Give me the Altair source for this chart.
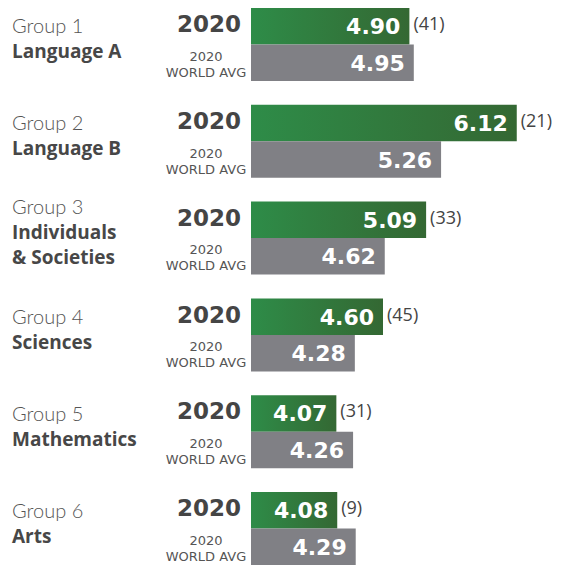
import altair as alt
import pandas as pd

groups = ["Group 1", "Group 2", "Group 3", "Group 4", "Group 5", "Group 6"]
subjects = ["Language A", "Language B", "Individuals\n& Societies", "Sciences", "Mathematics", "Arts"]
school_2020 = [4.90, 6.12, 5.09, 4.60, 4.07, 4.08]
world_avg = [4.95, 5.26, 4.62, 4.28, 4.26, 4.29]
counts = [41, 21, 33, 45, 31, 9]
series = ["2020", "2020\nWORLD AVG"]

BASE = 3.10
PX_PER_UNIT = 88
PLOT_W = 305

rows = []
for g, s, w, c in zip(groups, school_2020, world_avg, counts):
    rows.append({"group": g, "series": series[0], "value": s, "label": f"{s:.2f}", "count": f"({c})"})
    rows.append({"group": g, "series": series[1], "value": w, "label": f"{w:.2f}", "count": ""})
df = pd.DataFrame(rows)

lab_rows = []
for g, sub in zip(groups, subjects):
    n = len(sub.split("\n"))
    lab_rows.append({
        "group": g,
        "nlines": n + 1,
        "light": g + "\n " * n,
        "bold": " \n" + sub,
    })
labels = pd.DataFrame(lab_rows)

yscale = alt.Scale(domain=groups, paddingInner=0.246, paddingOuter=0)
offscale = alt.Scale(domain=series, paddingInner=0, paddingOuter=0)
xscale = alt.Scale(domain=[BASE, BASE + PLOT_W / PX_PER_UNIT], zero=False, nice=False)

Y = alt.Y("group:N", scale=yscale, axis=None)
YO = alt.YOffset("series:N", scale=offscale)
X = alt.X("value:Q", scale=xscale, axis=None)

green = alt.Gradient(
    gradient="linear",
    stops=[alt.GradientStop(color="#2e8c48", offset=0), alt.GradientStop(color="#346833", offset=1)],
    x1=0, x2=1, y1=0, y2=0,
)

base = alt.Chart(df)

bars_green = base.transform_filter(alt.datum.series == series[0]).mark_bar(color=green).encode(
    x=X, x2=alt.datum(BASE), y=Y, yOffset=YO
)
bars_gray = base.transform_filter(alt.datum.series == series[1]).mark_bar(color="#808085").encode(
    x=X, x2=alt.datum(BASE), y=Y, yOffset=YO
)
vals = base.mark_text(
    align="right", baseline="middle", dx=-9, dy=1, font="DejaVu Sans", fontWeight="bold",
    fontSize=22, color="white"
).encode(x=X, y=Y, yOffset=YO, text="label:N")

cnts = base.transform_filter(alt.datum.series == series[0]).mark_text(
    align="left", baseline="middle", dx=4, dy=-1, font="Open Sans", fontSize=18, color="#444444"
).encode(x=X, y=Y, yOffset=YO, text="count:N")

ser_big = base.transform_filter(alt.datum.series == series[0]).mark_text(
    align="right", baseline="middle", dx=-10, dy=-1, font="DejaVu Sans", fontWeight="bold",
    fontSize=23, color="#454545"
).encode(x=alt.value(0), y=Y, yOffset=YO, text="series:N")

ser_small = base.transform_filter(alt.datum.series == series[1]).mark_text(
    align="center", baseline="middle", dx=-45, dy=-6, font="DejaVu Sans", fontSize=13,
    color="#555555", lineBreak="\n", lineHeight=16
).encode(x=alt.value(0), y=Y, yOffset=YO, text="series:N")


def group_labels(nl, dy):
    lab = alt.Chart(labels).transform_filter(alt.datum.nlines == nl)
    light = lab.mark_text(
        align="left", baseline="middle", dx=-239, dy=dy, font="Lato", fontWeight=300,
        fontSize=20, color="#555555", lineBreak="\n", lineHeight=25
    ).encode(x=alt.value(0), y=Y, text="light:N")
    bold = lab.mark_text(
        align="left", baseline="middle", dx=-239, dy=dy, font="Open Sans", fontWeight="bold",
        fontSize=19, color="#474747", lineBreak="\n", lineHeight=25
    ).encode(x=alt.value(0), y=Y, text="bold:N")
    return [light, bold]


chart = alt.layer(
    bars_green, bars_gray, vals, cnts, ser_big, ser_small,
    *group_labels(2, -17), *group_labels(3, -30)
).properties(
    width=PLOT_W, height=557,
    background="white",
    autosize=alt.AutoSizeParams(type="none"),
    padding={"left": 243, "top": 0, "right": 0, "bottom": 0},
).configure_view(stroke=None)

chart.save("out.html", embed_options={"renderer": "svg", "actions": False})
